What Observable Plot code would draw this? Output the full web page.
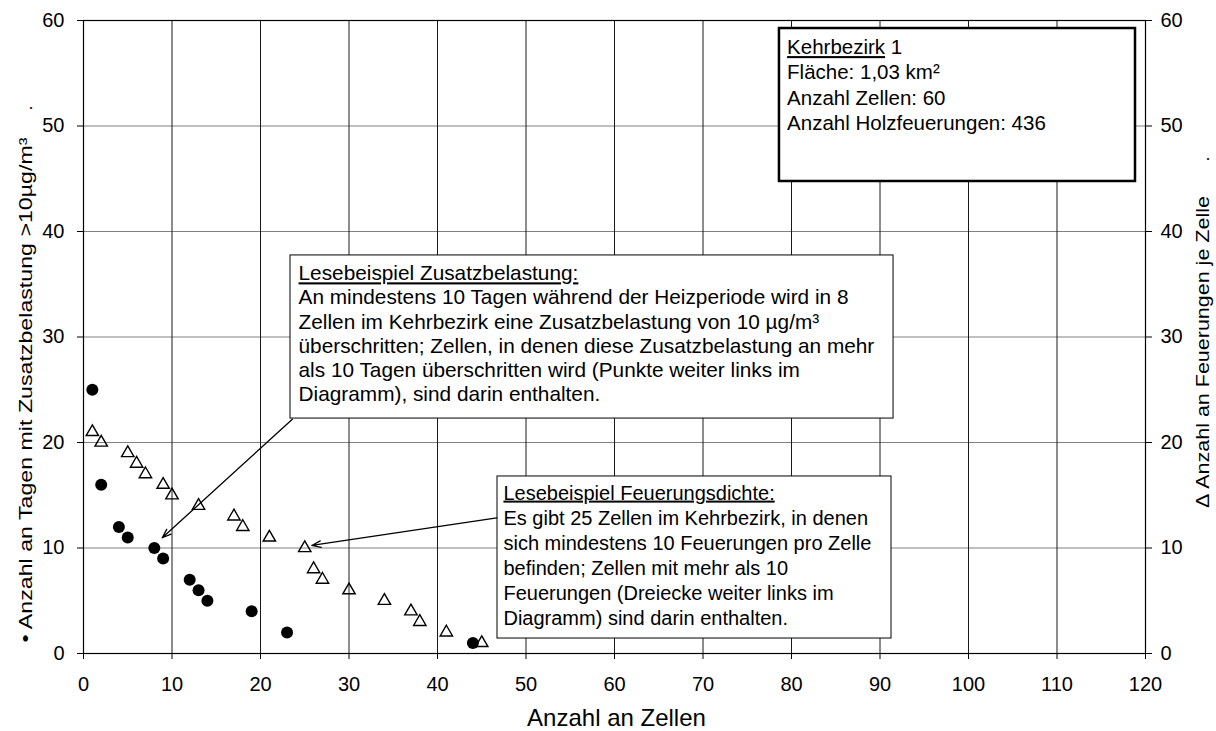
<!DOCTYPE html>
<html>
<head>
<meta charset="utf-8">
<script src="https://cdn.jsdelivr.net/npm/d3@7"></script>
<script src="https://cdn.jsdelivr.net/npm/@observablehq/plot@0.6"></script>
<style>
  html, body { margin: 0; padding: 0; background: #fff; }
  #chart svg { display: block; }
</style>
</head>
<body>
<div id="chart"></div>
<script>
// ---------- data ----------
const circleCells = [1, 2, 4, 5, 8, 9, 12, 13, 14, 19, 23, 44];
const circleDays  = [25, 16, 12, 11, 10, 9, 7, 6, 5, 4, 2, 1];

const triangleCells   = [1, 2, 5, 6, 7, 9, 10, 13, 17, 18, 21, 25, 26, 27, 30, 34, 37, 38, 41, 45];
const triangleFirings = [21, 20, 19, 18, 17, 16, 15, 14, 13, 12, 11, 10, 8, 7, 6, 5, 4, 3, 2, 1];

const xTicks = [0, 10, 20, 30, 40, 50, 60, 70, 80, 90, 100, 110, 120];
const yTicks = [0, 10, 20, 30, 40, 50, 60];

const xTitle = "Anzahl an Zellen";
const yLeftTitle = "\u2022 Anzahl an Tagen mit Zusatzbelastung >10\u00b5g/m\u00b3";
const yRightTitle = "\u0394 Anzahl an Feuerungen je Zelle";

const infoLines = [
  "Kehrbezirk 1",
  "Fl\u00e4che: 1,03 km\u00b2",
  "Anzahl Zellen: 60",
  "Anzahl Holzfeuerungen: 436"
];
const note1Lines = [
  "Lesebeispiel Zusatzbelastung:",
  "An mindestens 10 Tagen w\u00e4hrend der Heizperiode wird in 8",
  "Zellen im Kehrbezirk eine Zusatzbelastung von 10 \u00b5g/m\u00b3",
  "\u00fcberschritten; Zellen, in denen diese Zusatzbelastung an mehr",
  "als 10 Tagen \u00fcberschritten wird (Punkte weiter links im",
  "Diagramm), sind darin enthalten."
];
const note2Lines = [
  "Lesebeispiel Feuerungsdichte:",
  "Es gibt 25 Zellen im Kehrbezirk, in denen",
  "sich mindestens 10 Feuerungen pro Zelle",
  "befinden; Zellen mit mehr als 10",
  "Feuerungen (Dreiecke weiter links im",
  "Diagramm) sind darin enthalten."
];

// ---------- tables ----------
const circles = circleCells.map((c, i) => ({cells: c, value: circleDays[i]}));
const triangles = triangleCells.map((c, i) => ({cells: c, value: triangleFirings[i]}));

// annotation layout (data coordinates)
const boxes = [
  {x1: 78.64, x2: 118.87, y1: 44.74, y2: 59.24, sw: 2.5},
  {x1: 23.39, x2: 91.53, y1: 22.27, y2: 37.73, sw: 1},
  {x1: 46.78, x2: 91.3, y1: 1.42, y2: 16.78, sw: 1}
];
const boxTexts = [
  {x: 79.5, y: 58.5, text: infoLines.join("\n"), lh: 1.24, fs: 20.5},
  {x: 24.3, y: 37.08, text: note1Lines.join("\n"), lh: 1.16, fs: 20.8},
  {x: 47.45, y: 16.23, text: note2Lines.join("\n"), lh: 1.25, fs: 20}
];
const arrows = [
  {x1: 23.6, y1: 22.2, x2: 8.9, y2: 10.97},
  {x1: 46.7, y1: 12.86, x2: 25.8, y2: 10.24}
];

const FONT = "'Liberation Sans', Arial, Helvetica, sans-serif";

const chart = Plot.plot({
  width: 1216,
  height: 731,
  marginLeft: 83,
  marginRight: 71,
  marginTop: 20,
  marginBottom: 78,
  style: {fontFamily: FONT, fontSize: "20px", background: "#fff", color: "#000", overflow: "visible"},
  x: {domain: [0, 120], label: null},
  y: {domain: [0, 60], label: null},
  marks: [
    Plot.gridY(yTicks, {stroke: "#808080", strokeOpacity: 1, strokeWidth: 1}),
    Plot.gridX(xTicks, {stroke: "#1a1a1a", strokeOpacity: 1, strokeWidth: 1}),
    Plot.frame({stroke: "#000", strokeWidth: 1.2}),
    Plot.axisX(xTicks, {anchor: "bottom", tickSize: 6, tickPadding: 17, fontSize: 20, label: null, stroke: "#000"}),
    Plot.axisY(yTicks, {anchor: "left", tickSize: 6, tickPadding: 13, fontSize: 20, label: null, stroke: "#000"}),
    Plot.axisY(yTicks, {anchor: "right", tickSize: 6, tickPadding: 9, fontSize: 20, label: null, stroke: "#000"}),
    // axis titles
    Plot.text([xTitle], {frameAnchor: "bottom", textAnchor: "middle", lineAnchor: "middle", dx: 2, dy: 65, fontSize: 24, fill: "#000"}),
    Plot.text([yLeftTitle], {frameAnchor: "left", textAnchor: "middle", lineAnchor: "middle", dx: -57.5, dy: 53, rotate: -90, fontSize: 18, fill: "#000"}),
    Plot.text(["."], {frameAnchor: "left", textAnchor: "middle", lineAnchor: "middle", dx: -57.5, dy: -229, rotate: -90, fontSize: 18, fill: "#000"}),
    Plot.text([yRightTitle], {frameAnchor: "right", textAnchor: "middle", lineAnchor: "middle", dx: 58, dy: 15, rotate: -90, fontSize: 18, fill: "#000"}),
    Plot.text(["."], {frameAnchor: "right", textAnchor: "middle", lineAnchor: "middle", dx: 58, dy: -178, rotate: -90, fontSize: 18, fill: "#000"}),
    // annotation boxes
    Plot.rect(boxes, {x1: "x1", x2: "x2", y1: "y1", y2: "y2", fill: "#fff", stroke: "#000", strokeWidth: d => d.sw}),
    Plot.text(boxTexts, {x: "x", y: "y", text: "text", textAnchor: "start", lineAnchor: "top", lineHeight: 1.22, fontSize: d => d.fs, fill: "#000"}),
    Plot.arrow(arrows, {x1: "x1", y1: "y1", x2: "x2", y2: "y2", stroke: "#000", strokeWidth: 1.3, headLength: 11, headAngle: 40}),
    // data
    Plot.dot(triangles, {x: "cells", y: "value", symbol: "triangle", r: 4.6, stroke: "#000", strokeWidth: 1.4, fill: "none"}),
    Plot.dot(circles, {x: "cells", y: "value", r: 6, fill: "#000", stroke: "none"})
  ]
});

document.getElementById("chart").appendChild(chart);

// ---------- styling touches ----------
const svg = d3.select(chart);
// stretch rotated axis titles along their length
svg.selectAll("text").each(function() {
  const t = this.textContent;
  let target = null;
  if (t === yLeftTitle) target = 505;
  if (t === yRightTitle) target = 312;
  if (target) {
    const len = this.getComputedTextLength();
    const tr = this.getAttribute("transform") || "";
    this.setAttribute("transform", tr + " scale(" + (target / len) + ",1)");
  }
});
// per-box line heights
svg.selectAll("text").each(function() {
  const tspans = d3.select(this).selectAll("tspan");
  if (tspans.empty()) return;
  const first = tspans.nodes()[0].textContent;
  let lh = null;
  if (first === infoLines[0]) lh = boxTexts[0].lh;
  else if (first === note1Lines[0]) lh = boxTexts[1].lh;
  else if (first === note2Lines[0]) lh = boxTexts[2].lh;
  if (lh == null) return;
  tspans.each(function(d, i) {
    if (i > 0) d3.select(this).attr("dy", lh + "em");
  });
});
// underlines
svg.selectAll("tspan").each(function() {
  const s = d3.select(this);
  const t = this.textContent;
  if (t === note1Lines[0] || t === note2Lines[0]) {
    s.style("text-decoration", "underline");
  } else if (t === infoLines[0]) {
    const parts = t.split(" ");
    s.text("");
    s.append("tspan").style("text-decoration", "underline").text(parts[0]);
    s.append("tspan").text(" " + parts.slice(1).join(" "));
  }
});
</script>
</body>
</html>
